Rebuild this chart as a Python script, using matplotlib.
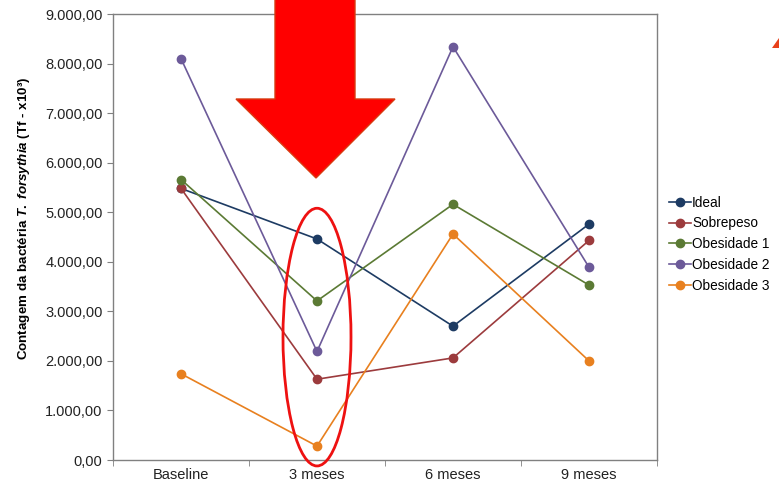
import matplotlib.pyplot as plt
from matplotlib.patches import Polygon, Ellipse

plt.rcParams['font.family'] = ['Liberation Sans', 'DejaVu Sans']
plt.rcParams['mathtext.fontset'] = 'custom'
plt.rcParams['mathtext.rm'] = 'Liberation Sans:bold'
plt.rcParams['mathtext.it'] = 'Liberation Sans:italic:bold'

# Contagem de T. forsythia por grupo (x10^3)
periodos = ['Baseline', '3 meses', '6 meses', '9 meses']
ideal = [5480, 4460, 2700, 4760]
sobrepeso = [5480, 1630, 2060, 4430]
obesidade_1 = [5660, 3210, 5160, 3530]
obesidade_2 = [8100, 2190, 8340, 3890]
obesidade_3 = [1740, 280, 4560, 2000]

grupos = ['Ideal', 'Sobrepeso', 'Obesidade 1', 'Obesidade 2', 'Obesidade 3']
series = [ideal, sobrepeso, obesidade_1, obesidade_2, obesidade_3]
cores = ['#1d3b63', '#9c3b3d', '#5b7a34', '#6c5a99', '#e8801f']

W, H = 779, 490
fig = plt.figure(figsize=(W / 100, H / 100), dpi=100)
ax = fig.add_axes([113 / W, 30 / H, 544 / W, 446 / H])

x = range(len(periodos))
for nome, vals, cor in zip(grupos, series, cores):
    ax.plot(x, vals, color=cor, lw=1.2, marker='o', ms=6, label=nome)

ax.set_xlim(-0.5, 3.5)
ax.set_ylim(0, 9000)
ax.set_yticks(range(0, 9001, 1000))
ax.set_yticklabels([f'{v:,.2f}'.replace(',', 'X').replace('.', ',').replace('X', '.')
                    for v in range(0, 9001, 1000)])
ax.set_xticks(list(x))
ax.set_xticklabels(periodos)
ax.set_xticks([-0.5, 0.5, 1.5, 2.5, 3.5], minor=True)
ax.tick_params(axis='x', which='major', length=0, pad=6)
ax.tick_params(axis='x', which='minor', length=4, direction='out', color='#808080')
ax.tick_params(axis='y', length=4, direction='out', color='#808080')
ax.tick_params(labelsize=10.5, labelcolor='#222222')
for s in ax.spines.values():
    s.set_color('#808080')
    s.set_linewidth(1)

ax.set_ylabel(r'Contagem da bactéria $\mathit{T.\ forsythia}$ (Tf - x10³)',
              fontsize=9.6, fontweight='bold')
ax.yaxis.set_label_coords(-0.149, 0.543)

ax.legend(loc='upper left', bbox_to_anchor=(1.012, 0.605), frameon=False,
          fontsize=9.8, handlelength=1.6, handletextpad=0.1, labelspacing=0.5,
          borderaxespad=0)

# Destaque no periodo de 3 meses
ax.add_patch(Ellipse((1, 2480), 0.5, 5200, fill=False, ec='#ee1111',
                     lw=2, clip_on=False, zorder=5))

def px(pts):
    return [(a / W, 1 - b / H) for a, b in pts]

seta = [(275, -2), (355, -2), (355, 99), (395, 99), (316, 178),
        (236, 99), (275, 99)]
fig.patches.append(Polygon(px(seta), closed=True, fc='#ff0000', ec='#d83a10',
                           lw=1, transform=fig.transFigure, zorder=10))
canto = [(779, 38), (772, 48), (779, 48)]
fig.patches.append(Polygon(px(canto), closed=True, fc='#e8401a', ec='none',
                           transform=fig.transFigure, zorder=10))

fig.savefig('out.png', dpi=100)
